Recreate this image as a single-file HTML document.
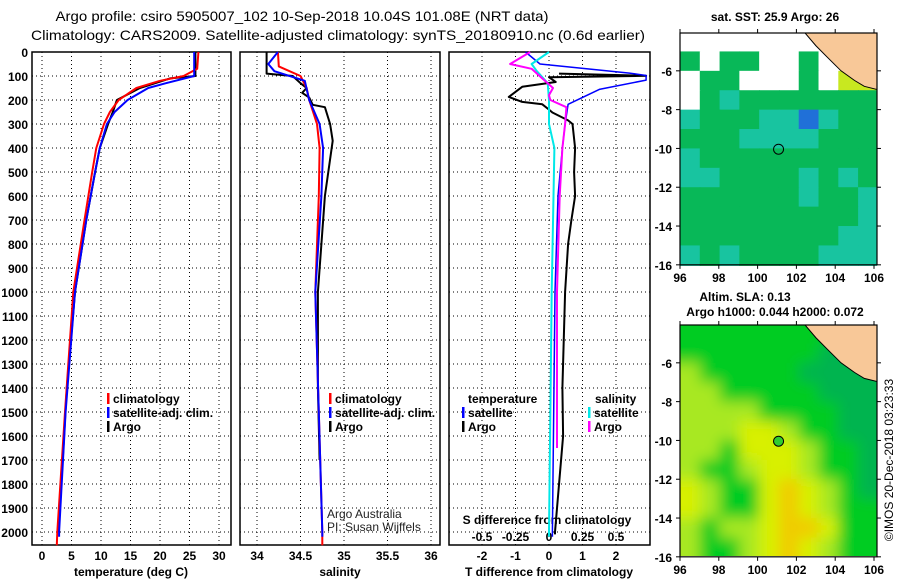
<!DOCTYPE html>
<html><head><meta charset="utf-8"><style>
html,body{margin:0;padding:0;background:#fff;}
svg{display:block;font-family:"Liberation Sans",sans-serif;}
.t{font-size:14px;}
.b{font-size:12px;font-weight:bold;}
</style></head><body>
<svg id="c" width="900" height="580" viewBox="0 0 900 580" xmlns="http://www.w3.org/2000/svg">
<defs>
<clipPath id="m1"><rect x="680" y="33" width="197" height="234"/></clipPath>
<clipPath id="m2"><rect x="680" y="325" width="197" height="231"/></clipPath>
<filter id="bl" x="-10%" y="-10%" width="120%" height="120%"><feGaussianBlur stdDeviation="7"/></filter>
</defs>
<text class="t" x="302" y="21" text-anchor="middle" textLength="493" lengthAdjust="spacingAndGlyphs">Argo profile: csiro 5905007_102 10-Sep-2018 10.04S 101.08E (NRT data)</text>
<text class="t" x="338" y="40" text-anchor="middle" textLength="614" lengthAdjust="spacingAndGlyphs">Climatology: CARS2009. Satellite-adjusted climatology: synTS_20180910.nc (0.6d earlier)</text>
<g id="plots"></g>
<text class="b" x="775" y="21" text-anchor="middle" font-weight="normal" font-size="12">sat. SST: 25.9 Argo: 26</text>
<text class="b" x="745" y="301" text-anchor="middle">Altim. SLA: 0.13</text>
<text class="b" x="775" y="316" text-anchor="middle">Argo h1000: 0.044 h2000: 0.072</text>
<text x="895" y="460" font-size="12" text-anchor="middle" transform="rotate(-90 895 460)" dy="-2">©IMOS 20-Dec-2018 03:23:33</text>
</svg>
<script>
// ---- profile data (depth in m) ----
const tClimD=[0,70,100,120,150,200,250,300,400,500,700,1000,1500,2000,2055];
const tClimV=[26.5,26.3,24,20,16,13,11.5,10.5,9.2,8.5,7.2,5.3,3.9,2.6,2.5];
const tSatD=[0,100,130,150,200,250,300,400,500,700,1000,1500,2000,2020];
const tSatV=[25.8,25.8,21,18,14.5,12.3,11,9.8,9,7.5,5.6,4,2.9,2.9];
const tArgoD=[0,100,110,150,200,250,300,400,500,700,1000,1400,1700,2000];
const tArgoV=[26,26,21.7,16.6,12.7,12,11.2,9.8,9,7.5,5.6,4.2,3.5,2.8];
const sClimD=[0,60,100,150,200,300,400,600,1000,1500,2000,2055];
const sClimV=[34.24,34.25,34.5,34.57,34.6,34.69,34.72,34.71,34.67,34.71,34.75,34.75];
const sSatD=[0,50,80,120,200,300,400,600,1000,1500,2000,2020];
const sSatV=[34.24,34.13,34.2,34.55,34.6,34.72,34.76,34.74,34.67,34.71,34.75,34.75];
const sArgoD=[0,90,100,130,150,170,190,220,230,300,370,500,600,800,1000,1400,1700];
const sArgoV=[34.11,34.11,34.41,34.5,34.57,34.52,34.6,34.64,34.78,34.84,34.87,34.82,34.78,34.74,34.7,34.7,34.72];
const dtSatD=[0,50,88,98,117,156,218,300,400,600,1000,2000,2020];
const dtSatV=[-0.7,-0.27,2.4,2.9,2.9,1.5,0.57,0.48,0.4,0.27,0.18,0.1,0.1];
const dtArgoD=[90,99,105,125,145,187,208,218,240,252,285,300,400,500,600,700,800,1000,1400,1600,2000,2010];
const dtArgoV=[0.3,2.9,0,0.2,-0.8,-1.2,-0.8,-0.2,0,0.1,0.57,0.7,0.78,0.75,0.78,0.67,0.57,0.48,0.4,0.42,0.18,0.18];
const dsArgoD=[0,50,70,100,130,150,180,200,230,300,400,600,1000,1650];
const dsArgoV=[-0.14,-0.29,-0.13,-0.07,-0.01,0.03,0,0.01,0.13,0.12,0.1,0.08,0.06,0.06];
const dsSatD=[0,50,80,130,200,300,400,1000,2000,2020];
const dsSatV=[0,-0.13,-0.09,-0.01,0,0,0.04,0.02,0,0];
const depthTicks=[0,100,200,300,400,500,600,700,800,900,1000,1100,1200,1300,1400,1500,1600,1700,1800,1900,2000];
const tTicks=[0,5,10,15,20,25,30];
const sTicks=[34,34.5,35,35.5,36];
const sTickLabels=["34","34.5","35","35.5","36"];
const dTicks=[-2,-1,0,1,2];
const dsTicks=[-0.5,-0.25,0,0.25,0.5];
const dsTickLabels=["-0.5","-0.25","0","0.25","0.5"];
// ---- map data ----
const sstRows=["wwwwwwwwwy","gwggwwgwwy","wggwwwgwyy","wgcggggggg","cgggccbcgg","gggccccggg","cggggggggg","ccggggcgcg","ggggggcggc","gggggggggc","ggggggggcc","cgcggggccc"];
const slaRows=["GGGGGGGGGG","GGGGGGGDDD","LGGGGGDDDD","LLGGGGGDDD","LLLLGGGGDD","LLLYYLGGDD","LLGYYYLGGD","LGGLYYLGGD","YLGGYOYLGD","YLGGYOYLGG","LGLLYOOYGG","LGGLYOYLGG"];
const lonTicks=[96,98,100,102,104,106];
const latTicks=[-6,-8,-10,-12,-14,-16];
const landLon=[102.4,103,103.6,104.3,105,105.5,106.3,106.3];
const landLat=[-4,-4.7,-5.3,-6,-6.5,-6.8,-7,-4];
const argoPos=[101.08,-10.04];

const NS="http://www.w3.org/2000/svg";
const G=document.getElementById('plots');
function mk(tag,a,parent){const e=document.createElementNS(NS,tag);for(const k in a)e.setAttribute(k,a[k]);(parent||G).appendChild(e);return e;}
const yD=d=>52+0.24*d;
const xT=v=>42+5.9*v, xS=v=>257+87*(v-34), xDT=v=>549+33.5*v, xDS=v=>549+134*v;
const panels=[[32,231],[240,440],[449,650]];
let e;
panels.forEach((p,i)=>{
  e=mk('rect',{x:p[0],y:52,width:p[1]-p[0],height:493,fill:'none',stroke:'#000','stroke-width':1.5});
  
  
  depthTicks.forEach(d=>{
    if(d===0)return;
    e=mk('line',{x1:p[0],x2:p[1],y1:yD(d),y2:yD(d),stroke:'#000','stroke-dasharray':'1,3'});
    
    
  });
});
depthTicks.forEach(d=>{
  e=mk('text',{x:28,y:yD(d)+5,'text-anchor':'end',class:'b'});e.textContent=d;
  
  
});
function vgrid(vals,f,labels,y){vals.forEach((v,i)=>{
  e=mk('line',{x1:f(v),x2:f(v),y1:52,y2:545,stroke:'#000','stroke-dasharray':'1,3'});
  
  
  e=mk('text',{x:f(v),y:y,'text-anchor':'middle',class:'b','font-weight':'normal'});e.textContent=labels[i];
  
  
});}
vgrid(tTicks,xT,tTicks,560);
vgrid(sTicks,xS,sTickLabels,560);
vgrid(dTicks,xDT,dTicks,560);
dsTicks.forEach((v,i)=>{
  e=mk('text',{x:xDS(v),y:541,'text-anchor':'middle',class:'b','font-weight':'normal'});e.textContent=dsTickLabels[i];
  
  
});
[[131,'temperature (deg C)','temperature-axis-title'],[340,'salinity','salinity-axis-title'],[549,'T difference from climatology','t-diff-axis-title']].forEach(a=>{
  e=mk('text',{x:a[0],y:576,'text-anchor':'middle',class:'b'});e.textContent=a[1];
  
  
});
e=mk('text',{x:547,y:524,'text-anchor':'middle',class:'b'});e.textContent='S difference from climatology';


function line(D,V,f,col,name,w){
  const pts=D.map((d,i)=>f(V[i]).toFixed(1)+','+yD(d).toFixed(1)).join(' ');
  e=mk('polyline',{points:pts,fill:'none',stroke:col,'stroke-width':w||2,'stroke-linejoin':'round'});
  
  
}
line(tArgoD,tArgoV,xT,'#000','temp-argo-line');
line(tClimD,tClimV,xT,'#f00','temp-climatology-line');
line(tSatD,tSatV,xT,'#0000ff','temp-satellite-line');
line(sArgoD,sArgoV,xS,'#000','sal-argo-line');
line(sClimD,sClimV,xS,'#f00','sal-climatology-line');
line(sSatD,sSatV,xS,'#0000ff','sal-satellite-line');
line(dtArgoD,dtArgoV,xDT,'#000','tdiff-argo-line');
line(dtSatD,dtSatV,xDT,'#0000ff','tdiff-satellite-line',1.5);
line(dsSatD,dsSatV,xDS,'#00e8e8','sdiff-satellite-line');
line(dsArgoD,dsArgoV,xDS,'#f0f','sdiff-argo-line');
function leg(x,y,col,txt){
  e=mk('rect',{x:x,y:y-10,width:2.5,height:11,fill:col});
  
  
  e=mk('text',{x:x+6,y:y,class:'b'});e.textContent=txt;
  
  
}
leg(107,403,'#f00','climatology');leg(107,417,'#0000ff','satellite-adj. clim.');leg(107,431,'#000','Argo');
leg(329,403,'#f00','climatology');leg(329,417,'#0000ff','satellite-adj. clim.');leg(329,431,'#000','Argo');
e=mk('text',{x:468,y:403,class:'b'});e.textContent='temperature';


e=mk('text',{x:595,y:403,class:'b'});e.textContent='salinity';


leg(462,417,'#0000ff','satellite');leg(462,431,'#000','Argo');
leg(588,417,'#00e8e8','satellite');leg(588,431,'#f0f','Argo');
[['Argo Australia',518],['PI: Susan Wijffels',531]].forEach(a=>{
  e=mk('text',{x:327,y:a[1],'font-size':12,fill:'#222'});e.textContent=a[0];
  
  
});
// ---- maps ----
const colS={w:'#ffffff',g:'#08b858',c:'#18c4a0',b:'#2070d8',y:'#c8e820'};
const colA={G:'#00cc22',D:'#00b450',L:'#a8e820',Y:'#d8f000',O:'#f0cc00'};
function map(top,rows,cols,clip,blur,name){
  const lx=v=>680+(v-96)*19.4, ly=v=>top+(-4.05-v)*19.4;
  const g=mk('g',{'clip-path':'url(#'+clip+')'});
  
  
  const inner=mk('g',blur?{filter:'url(#bl)'}:{},g);
  if(blur){mk('rect',{x:660,y:top-20,width:240,height:280,fill:cols.G},inner);}
  rows.forEach((r,j)=>{[...r].forEach((ch,i)=>{
    e=mk('rect',{x:lx(96+i*1.02)-(blur&&i==0?20:0),y:ly(-4-j)-(blur&&j==0?20:0),width:20.5+(blur&&(i==0||i==9)?20:0),height:20.5+(blur&&(j==0||j==11)?20:0),fill:cols[ch]},inner);
    
    
  });});
  const lp=landLon.map((v,i)=>lx(v).toFixed(1)+','+ly(landLat[i]).toFixed(1)).join(' ');
  e=mk('polygon',{points:lp,fill:'#f8c898',stroke:'#000','stroke-width':1},g);
  
  
  e=mk('rect',{x:680,y:top,width:197,height:ly(-16)-top,fill:'none',stroke:'#000','stroke-width':1.2});
  
  
  e=mk('circle',{cx:lx(argoPos[0]),cy:ly(argoPos[1]),r:5,fill:blur?'#30cc30':'none',stroke:'#000'});
  
  
  lonTicks.forEach(v=>{
    e=mk('text',{x:lx(v),y:ly(-16)+17,'text-anchor':'middle',class:'b'});e.textContent=v;
    
    
    mk('line',{x1:lx(v),x2:lx(v),y1:ly(-16),y2:ly(-16)+4,stroke:'#000'});
    mk('line',{x1:lx(v),x2:lx(v),y1:top,y2:top-4,stroke:'#000'});
  });
  latTicks.forEach(v=>{
    e=mk('text',{x:672,y:ly(v)+5,'text-anchor':'end',class:'b'});e.textContent=v;
    
    
    mk('line',{x1:676,x2:680,y1:ly(v),y2:ly(v),stroke:'#000'});
    mk('line',{x1:877,x2:881,y1:ly(v),y2:ly(v),stroke:'#000'});
  });
}
map(33,sstRows,colS,'m1',false,'sst-map');
map(325,slaRows,colA,'m2',true,'sla-map');
</script>
</body></html>
